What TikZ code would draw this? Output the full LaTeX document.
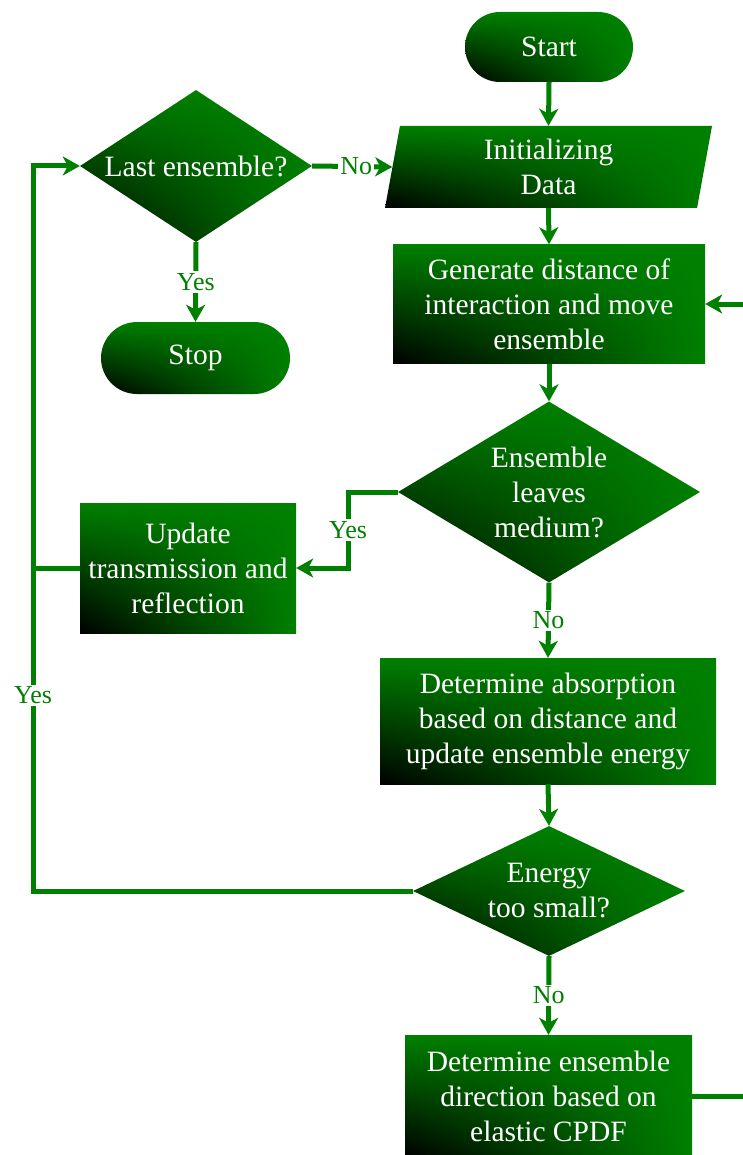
\documentclass[tikz,border=0pt]{standalone}
\usepackage{fontspec}
\setmainfont{Liberation Serif}
\usetikzlibrary{shapes.geometric,arrows.meta,shadings}
\definecolor{fg}{RGB}{0,128,0}
\newcommand\mainfs{\fontsize{29.5}{35}\selectfont}
\newcommand\lblfs{\fontsize{26}{30}\selectfont}
\tikzset{
  shadefill/.style={shade, shading=bilinear interpolation, lower left=black, upper left=fg, upper right=fg, lower right=fg},
  box/.style={rectangle, shadefill, text=white, font=\mainfs, align=center, inner sep=0pt},
  term/.style={box, rounded corners=35pt},
  diam/.style={diamond, shadefill, inner sep=0pt},
  dtext/.style={text=white, font=\mainfs, align=center, inner sep=0pt},
  para/.style={trapezium, trapezium left angle=75, trapezium right angle=105, trapezium stretches body, shadefill, text=white, font=\mainfs, align=center, inner sep=0pt},
  line/.style={draw=fg, line width=5pt},
  conn/.style={line, -{Stealth[length=17pt,width=19pt,inset=5pt]}},
  lbl/.style={fill=white, text=fg, font=\lblfs, inner sep=2pt}
}
\begin{document}
\begin{tikzpicture}[x=1pt,y=-1pt]
\useasboundingbox (0,0) rectangle (743,1155);
\fill[white] (0,0) rectangle (743,1155);
\clip (0,0) rectangle (743,1155);

\node[term, minimum width=168pt, minimum height=70pt] (start) at (549,47) {Start};
\node[para, minimum width=327pt, minimum height=82pt] (init) at (548.5,167) {Initializing\\Data};
\node[box, minimum width=312pt, minimum height=119pt] (gen) at (549,304) {Generate distance of\\interaction and move\\ensemble};
\node[diam, minimum width=232pt, minimum height=152pt, label={[dtext]center:Last ensemble?}] (last) at (196,166) {};
\node[term, minimum width=189pt, minimum height=72pt, rounded corners=36pt] (stop) at (195.5,358) {Stop};
\node[diam, minimum width=302pt, minimum height=181pt, label={[dtext]center:{Ensemble\\leaves\\medium?}}] (leaves) at (549,492) {};
\node[box, minimum width=216pt, minimum height=130pt] (upd) at (188,568) {Update\\transmission and\\reflection};
\node[box, minimum width=336pt, minimum height=126pt] (det) at (548,721) {Determine absorption\\based on distance and\\update ensemble energy};
\node[diam, minimum width=272pt, minimum height=130pt, label={[dtext]center:{Energy\\too small?}}] (energy) at (549,891) {};
\node[box, minimum width=287pt, minimum height=122pt] (dir) at (548.5,1096) {Determine ensemble\\direction based on\\elastic CPDF};

\coordinate (lx) at (33,0);
\coordinate (yx) at (348,0);
\coordinate (rx) at (770,0);

\draw[conn] (start.south) -- (init.north);
\draw[conn] (init.south) -- (gen.north);
\draw[conn] (gen.south) -- (leaves.north);
\draw[conn] (leaves.south) -- node[lbl]{No} (det.north);
\draw[conn] (det.south) -- (energy.north);
\draw[conn] (energy.south) -- node[lbl]{No} (dir.north);
\draw[conn] (last.south) -- node[lbl]{Yes} (stop.north);
\draw[conn] (last.east) -- node[lbl, pos=0.55]{No} (init.west);
\draw[conn] (energy.west) -- (energy.west -| lx) -- node[lbl, pos=0.27]{Yes} (last.west -| lx) -- (last.west);
\draw[line] (upd.west) -- (upd.west -| lx);
\draw[conn] (leaves.west) -- (leaves.west -| yx) -- node[lbl]{Yes} (upd.east -| yx) -- (upd.east);
\draw[conn] (dir.east) -- (dir.east -| rx) -- (gen.east -| rx) -- (gen.east);
\end{tikzpicture}
\end{document}
